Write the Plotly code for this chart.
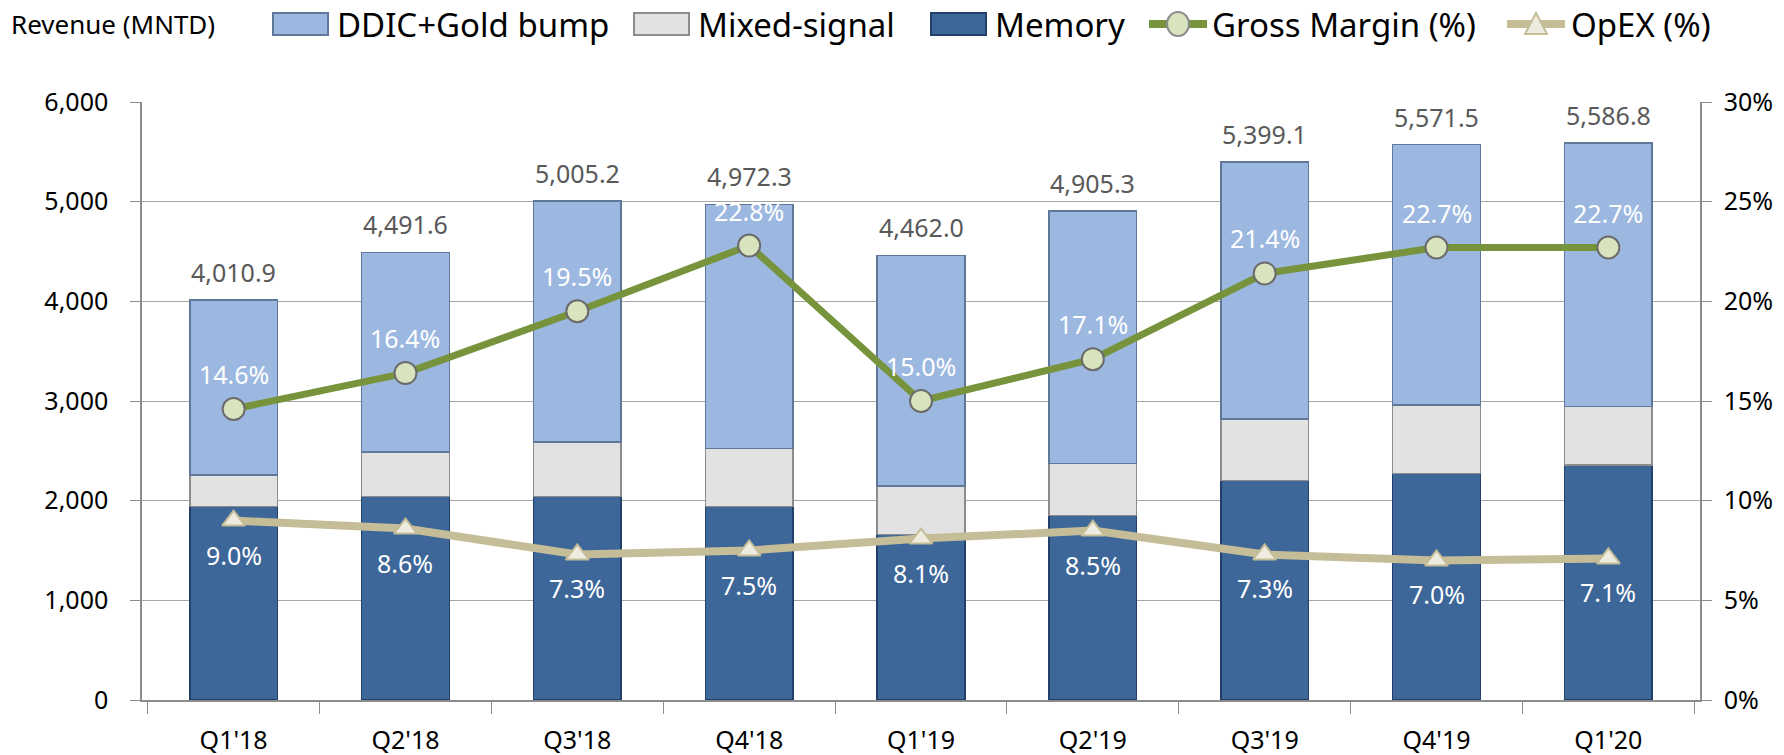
import plotly.graph_objects as go

quarters = ["Q1'18", "Q2'18", "Q3'18", "Q4'18", "Q1'19", "Q2'19", "Q3'19", "Q4'19", "Q1'20"]
memory = [1940, 2040, 2040, 1940, 1660, 1850, 2200, 2275, 2360]
mixed_signal = [320, 450, 550, 585, 485, 525, 620, 685, 585]
ddic_gold = [1751, 2002, 2415, 2447, 2317, 2530, 2579, 2612, 2642]
totals = [4010.9, 4491.6, 5005.2, 4972.3, 4462.0, 4905.3, 5399.1, 5571.5, 5586.8]
gross_margin = [14.6, 16.4, 19.5, 22.8, 15.0, 17.1, 21.4, 22.7, 22.7]
opex = [9.0, 8.6, 7.3, 7.5, 8.1, 8.5, 7.3, 7.0, 7.1]

FONT = "Noto Sans"
PL, PR, PT, PB = 142, 1700, 102, 700  # plot area in page pixels
W, H = 1784, 755
PW, PH = PR - PL, PB - PT

C_DDIC, L_DDIC = "#9CB8E0", "#5F7899"
C_MIX, L_MIX = "#E2E2E2", "#8C8C8C"
C_MEM, L_MEM = "#3D6699", "#22406A"
C_GM, F_GM, E_GM = "#77933C", "#D7E4BD", "#6B6B6B"
C_OP, F_OP = "#C4BD97", "#EEECE1"


def px(vx):
    return (vx - PL) / PW


def py(vy):
    return (PB - vy) / PH


fig = go.Figure()

fig.add_trace(go.Bar(x=quarters, y=memory, name="Memory", width=0.51,
                     marker=dict(color=C_MEM, line=dict(color=L_MEM, width=1.5))))
fig.add_trace(go.Bar(x=quarters, y=mixed_signal, name="Mixed-signal", width=0.51,
                     marker=dict(color=C_MIX, line=dict(color=L_MIX, width=1.5))))
fig.add_trace(go.Bar(x=quarters, y=ddic_gold, name="DDIC+Gold bump", width=0.51,
                     marker=dict(color=C_DDIC, line=dict(color=L_DDIC, width=1.5))))

fig.add_trace(go.Scatter(x=quarters, y=gross_margin, name="Gross Margin (%)", yaxis="y2",
                         mode="lines+markers",
                         line=dict(color=C_GM, width=7),
                         marker=dict(symbol="circle", size=22, color=F_GM,
                                     line=dict(color=E_GM, width=2))))
fig.add_trace(go.Scatter(x=quarters, y=opex, name="OpEX (%)", yaxis="y2",
                         mode="lines+markers",
                         line=dict(color=C_OP, width=8),
                         marker=dict(symbol="triangle-up", size=20, color=F_OP,
                                     line=dict(color=C_OP, width=2))))

annotations = []
for q, t in zip(quarters, totals):
    annotations.append(dict(x=q, y=t, xref="x", yref="y", text=f"{t:,.1f}", showarrow=False,
                            yshift=28, font=dict(family=FONT, size=25, color="#595959")))
for q, g in zip(quarters, gross_margin):
    annotations.append(dict(x=q, y=g, xref="x", yref="y2", text=f"{g:.1f}%", showarrow=False,
                            yshift=35, font=dict(family=FONT, size=25, color="white")))
for q, o in zip(quarters, opex):
    annotations.append(dict(x=q, y=o, xref="x", yref="y2", text=f"{o:.1f}%", showarrow=False,
                            yshift=-34, font=dict(family=FONT, size=25, color="white")))

LEG_Y = 24
annotations.append(dict(x=px(9), y=py(LEG_Y), xref="paper", yref="paper",
                        text="Revenue (MNTD)", showarrow=False, xanchor="left", yanchor="middle",
                        font=dict(family=FONT, size=26, color="black")))

# custom legend (icons drawn as shapes, labels as text)
shapes = []
legend_items = [
    ("DDIC+Gold bump", "bar", C_DDIC, L_DDIC, 335),
    ("Mixed-signal", "bar", C_MIX, L_MIX, 696),
    ("Memory", "bar", C_MEM, L_MEM, 993),
    ("Gross Margin (%)", "gm", None, None, 1210),
    ("OpEX (%)", "op", None, None, 1569),
]
for label, kind, fill, edge, tx in legend_items:
    annotations.append(dict(x=px(tx), y=py(LEG_Y), xref="paper", yref="paper", text=label,
                            showarrow=False, xanchor="left", yanchor="middle",
                            font=dict(family=FONT, size=33, color="black")))
    if kind == "bar":
        shapes.append(dict(type="rect", xref="paper", yref="paper",
                           x0=px(tx - 62), x1=px(tx - 7), y0=py(13), y1=py(35),
                           fillcolor=fill, line=dict(color=edge, width=2)))
    elif kind == "gm":
        shapes.append(dict(type="line", xref="paper", yref="paper",
                           x0=px(tx - 61), x1=px(tx - 3), y0=py(LEG_Y), y1=py(LEG_Y),
                           line=dict(color=C_GM, width=8)))
        cx = tx - 32
        shapes.append(dict(type="circle", xref="paper", yref="paper",
                           x0=px(cx - 11), x1=px(cx + 11), y0=py(LEG_Y + 12), y1=py(LEG_Y - 12),
                           fillcolor=F_GM, line=dict(color="#8C8C8C", width=2)))
    else:
        shapes.append(dict(type="line", xref="paper", yref="paper",
                           x0=px(tx - 62), x1=px(tx - 4), y0=py(LEG_Y), y1=py(LEG_Y),
                           line=dict(color=C_OP, width=8)))
        cx = tx - 33
        path = (f"M {px(cx - 11)},{py(LEG_Y + 10)} L {px(cx + 11)},{py(LEG_Y + 10)} "
                f"L {px(cx)},{py(LEG_Y - 11)} Z")
        shapes.append(dict(type="path", xref="paper", yref="paper", path=path,
                           fillcolor=F_OP, line=dict(color=C_OP, width=2)))

fig.update_layout(
    width=W, height=H,
    margin=dict(l=PL, r=W - PR, t=PT, b=H - PB, autoexpand=False),
    paper_bgcolor="white", plot_bgcolor="white",
    barmode="stack", bargap=0.49,
    font=dict(family=FONT, size=25, color="black"),
    showlegend=False,
    annotations=annotations,
    shapes=shapes,
    xaxis=dict(type="category", showline=True, linecolor="#8C8C8C", linewidth=1.5,
               ticks="outside", tickson="boundaries", ticklen=12, tickcolor="#8C8C8C",
               ticklabelstandoff=17,
               tickfont=dict(family=FONT, size=25, color="black"), showgrid=False),
    yaxis=dict(range=[0, 6000], dtick=1000, tickformat=",d", showline=True, linecolor="#8C8C8C",
               linewidth=1.5, ticks="outside", ticklen=10, tickcolor="#8C8C8C",
               ticklabelstandoff=17,
               showgrid=True, gridcolor="#A6A6A6", gridwidth=1.2, zeroline=False,
               tickfont=dict(family=FONT, size=25, color="black")),
    yaxis2=dict(range=[0, 30], dtick=5, ticksuffix="%", overlaying="y", side="right",
                showline=True, linecolor="#8C8C8C", linewidth=1.5, ticks="outside", ticklen=10,
                tickcolor="#8C8C8C", showgrid=False, zeroline=False, ticklabelstandoff=7,
                tickfont=dict(family=FONT, size=25, color="black")),
)

fig.write_html("out.html", config={"displayModeBar": False},
               post_script="document.body.style.margin='0';document.body.style.overflow='hidden';")
